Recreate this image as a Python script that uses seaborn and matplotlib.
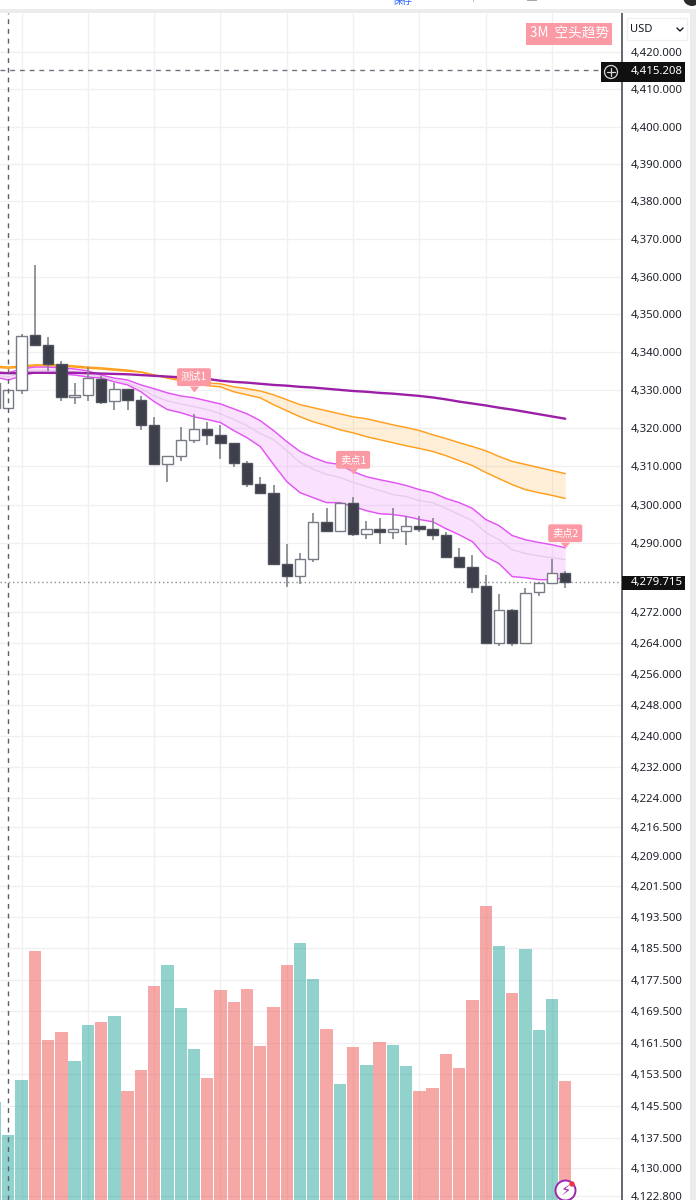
import matplotlib
matplotlib.use("Agg")
import matplotlib.pyplot as plt
from matplotlib.patches import Rectangle, FancyBboxPatch, Circle
from matplotlib.ticker import FixedLocator, FixedFormatter, NullLocator
from matplotlib.transforms import IdentityTransform
import numpy as np
import pandas as pd
import seaborn as sns

# OHLC of the 3-minute bars, body top / bottom plus wick extremes
body_top = [4331.9, 4330.1, 4344.2, 4344.5, 4342.0, 4336.9, 4328.8, 4333.2, 4333.0, 4330.4, 4330.4,
            4327.5, 4320.9, 4312.6, 4316.8, 4319.9, 4319.9, 4318.1, 4316.0, 4311.0, 4305.5, 4302.9,
            4284.6, 4285.9, 4295.5, 4295.5, 4300.5, 4300.5, 4293.7, 4293.7, 4293.7, 4294.5, 4294.5,
            4293.5, 4292.1, 4286.4, 4283.8, 4278.8, 4272.5, 4272.5, 4277.0, 4279.6, 4282.2, 4282.2]
body_bottom = [4325.4, 4325.4, 4330.1, 4342.0, 4336.9, 4328.3, 4328.3, 4328.8, 4327.0, 4327.2, 4327.5,
               4320.9, 4310.5, 4310.7, 4312.6, 4316.8, 4318.1, 4316.2, 4311.0, 4305.5, 4302.9, 4284.6,
               4281.4, 4281.4, 4285.9, 4293.2, 4293.2, 4292.4, 4292.4, 4292.9, 4292.9, 4293.2, 4293.5,
               4292.1, 4286.4, 4283.8, 4278.5, 4263.9, 4263.9, 4263.9, 4263.9, 4277.2, 4279.6, 4279.7]
highs = [4334.0, 4330.1, 4344.8, 4363.1, 4344.0, 4337.7, 4331.9, 4336.1, 4333.8, 4331.9, 4330.4,
         4328.5, 4323.0, 4312.8, 4320.2, 4323.8, 4321.7, 4320.9, 4316.0, 4311.3, 4307.3, 4305.0,
         4289.8, 4287.4, 4297.9, 4299.0, 4300.5, 4302.1, 4295.8, 4296.6, 4299.0, 4297.1, 4296.9,
         4296.6, 4292.7, 4288.7, 4286.9, 4281.7, 4276.7, 4272.8, 4278.3, 4279.8, 4285.9, 4282.7]
lows = [4323.0, 4325.4, 4329.1, 4341.6, 4335.1, 4327.2, 4326.4, 4327.2, 4326.4, 4324.9, 4324.9,
        4319.6, 4310.5, 4305.8, 4311.5, 4316.2, 4315.7, 4311.8, 4309.9, 4304.7, 4302.9, 4284.3,
        4278.5, 4279.3, 4285.1, 4292.7, 4292.9, 4291.9, 4291.1, 4289.8, 4291.1, 4289.5, 4292.9,
        4290.8, 4286.4, 4283.5, 4277.0, 4263.6, 4263.1, 4263.1, 4263.9, 4276.2, 4279.6, 4278.3]
rising = [1, 1, 1, 0, 0, 0, 1, 1, 0, 1, 0, 0, 0, 1, 1, 1, 0, 0, 0, 0, 0, 0,
          0, 1, 1, 0, 1, 0, 1, 0, 1, 1, 0, 0, 0, 0, 0, 0, 1, 0, 1, 1, 1, 0]

# Trade volume per bar
volume = [98, 65, 120, 249, 160, 168, 139, 175, 178, 184, 109, 130, 214, 235, 192, 151, 122, 210,
          198, 211, 154, 193, 235, 257, 221, 171, 116, 153, 135, 158, 155, 134, 109, 112, 146, 132,
          200, 294, 254, 207, 251, 170, 201, 119]

# Moving-average ribbons
ribbon_upper = [4334.8, 4334.6, 4335.6, 4336.1, 4336.1, 4335.9, 4335.6, 4335.1, 4334.0, 4333.2, 4332.7,
                4331.4, 4330.4, 4329.3, 4328.5, 4328.0, 4327.2, 4326.4, 4325.1, 4323.8, 4322.0, 4319.4,
                4316.5, 4313.9, 4312.3, 4311.0, 4310.5, 4308.6, 4307.3, 4306.5, 4305.8, 4305.0, 4303.9,
                4303.1, 4301.6, 4300.5, 4299.0, 4296.1, 4294.5, 4291.9, 4290.8, 4290.1, 4289.5, 4288.7]
ribbon_lower = [4333.5, 4332.7, 4333.8, 4334.6, 4334.6, 4334.3, 4334.0, 4333.5, 4333.2, 4332.2, 4331.4,
                4329.6, 4327.0, 4324.9, 4324.1, 4323.0, 4322.3, 4321.5, 4319.4, 4317.5, 4315.2, 4310.5,
                4306.0, 4303.1, 4301.8, 4300.5, 4300.5, 4299.5, 4298.4, 4297.6, 4297.4, 4296.9, 4296.1,
                4295.5, 4293.7, 4292.1, 4290.3, 4286.4, 4284.6, 4281.2, 4280.9, 4280.4, 4280.4, 4280.9]
ribbon_mid = [4334.0, 4333.5, 4334.6, 4335.3, 4335.3, 4335.1, 4334.8, 4334.3, 4333.5, 4332.7, 4331.9,
              4330.4, 4328.5, 4327.2, 4326.4, 4325.7, 4324.9, 4323.8, 4322.3, 4320.7, 4318.6, 4317.0,
              4314.1, 4311.0, 4309.2, 4307.9, 4307.1, 4305.8, 4304.7, 4303.7, 4302.6, 4302.1, 4301.0,
              4300.5, 4299.0, 4297.4, 4295.8, 4292.7, 4290.8, 4288.2, 4287.2, 4286.6, 4286.1, 4285.6]
slow_upper = [4336.4, 4336.1, 4336.4, 4336.7, 4336.7, 4336.7, 4336.4, 4336.1, 4335.9, 4335.6, 4335.3,
              4334.8, 4334.0, 4333.5, 4333.0, 4332.5, 4331.9, 4331.7, 4330.9, 4330.4, 4329.8, 4328.8,
              4327.5, 4326.2, 4325.4, 4324.6, 4323.8, 4323.0, 4322.5, 4321.7, 4320.9, 4320.2, 4319.4,
              4318.3, 4317.3, 4316.2, 4315.2, 4314.1, 4312.6, 4311.3, 4310.5, 4309.7, 4308.9, 4308.1]
slow_lower = [4336.1, 4335.8, 4336.1, 4336.4, 4336.4, 4336.4, 4336.1, 4335.8, 4335.6, 4335.3, 4335.0,
              4334.8, 4334.0, 4333.2, 4332.5, 4331.7, 4331.2, 4330.9, 4329.6, 4328.8, 4328.0, 4326.2,
              4324.6, 4323.0, 4321.7, 4320.7, 4319.6, 4318.8, 4317.8, 4317.0, 4316.2, 4315.4, 4314.7,
              4313.9, 4312.8, 4311.5, 4310.2, 4308.4, 4306.8, 4305.2, 4303.9, 4303.1, 4302.4, 4301.6]
trend_line = [4334.6, 4334.5, 4334.5, 4334.6, 4334.6, 4334.6, 4334.6, 4334.5, 4334.4, 4334.3, 4334.2,
              4334.0, 4333.8, 4333.6, 4333.4, 4333.2, 4333.0, 4332.5, 4332.2, 4332.0, 4331.7, 4331.4,
              4331.2, 4330.9, 4330.7, 4330.4, 4330.1, 4329.8, 4329.6, 4329.3, 4329.1, 4328.8, 4328.5,
              4328.1, 4327.6, 4327.0, 4326.5, 4326.0, 4325.4, 4324.9, 4324.3, 4323.7, 4323.1, 4322.5]

# Signal badges: bar index, price of the pointer, caption
signal_bars = [15, 27, 43]
signal_prices = [4329.6, 4307.9, 4288.7]
signal_labels = ["测试1", "卖点1", "卖点2"]

# Price scale
tick_values = [4420, 4410, 4400, 4390, 4380, 4370, 4360, 4350, 4340, 4330, 4320, 4310, 4300, 4290,
               4272, 4264, 4256, 4248, 4240, 4232, 4224, 4216.5, 4209, 4201.5, 4193.5, 4185.5,
               4177.5, 4169.5, 4161.5, 4153.5, 4145.5, 4137.5, 4130, 4122.8]
tick_labels = [f"{v:,.3f}" for v in tick_values]
crosshair_price = 4415.208
last_price = 4279.715
grid_bars = [2, 7, 12, 17, 22, 27, 32, 37, 42]

PINK = "#EF5350"
TEAL = "#26A69A"
BADGE = "#FB9AA4"
GRID = "#F0F0F2"
LATIN = ["Noto Sans", "DejaVu Sans"]

sns.set_style("white")
plt.rcParams["font.family"] = ["Noto Sans CJK SC", "DejaVu Sans"]

fig_w, fig_h = 696, 1200
fig = plt.figure(figsize=(fig_w / 100, fig_h / 100), dpi=100, facecolor="white")
pane_top = 13
ax = fig.add_axes([0, 0, 622 / fig_w, (fig_h - pane_top) / fig_h])


def fx(x):
    return x / fig_w


def fy(y):
    return 1 - y / fig_h


def disc(x, y, r, **style):
    # Round marker placed in device pixels so it stays circular
    fig.add_artist(Circle((x, fig_h - y), r, transform=IdentityTransform(), **style))


bars = pd.DataFrame({
    "bar": np.arange(len(volume)),
    "volume": volume,
    "side": ["up" if r else "down" for r in rising],
    "top": body_top,
    "bottom": body_bottom,
    "high": highs,
    "low": lows,
    "upper": ribbon_upper,
    "lower": ribbon_lower,
    "mid": ribbon_mid,
    "slow_upper": slow_upper,
    "slow_lower": slow_lower,
    "trend": trend_line,
})

# Volume histogram shares the bar axis
ax_vol = ax.twinx()
sns.barplot(data=bars, x="bar", y="volume", hue="side", palette={"up": TEAL, "down": PINK},
            hue_order=["up", "down"], native_scale=True, dodge=False, width=0.93, alpha=0.5,
            saturation=1, linewidth=0, legend=False, ax=ax_vol)
ax_vol.set_ylim(0, fig_h - pane_top)
ax_vol.set_yticks([])
ax_vol.set_ylabel("")
ax_vol.set_xlabel("")
for side in ["top", "left", "bottom", "right"]:
    ax_vol.spines[side].set_visible(False)

# Price pane on a log scale with the labels on the right
ax.set_yscale("log")
ax.yaxis.tick_right()
ax.yaxis.set_major_locator(FixedLocator(tick_values))
ax.yaxis.set_major_formatter(FixedFormatter(tick_labels))
ax.yaxis.set_minor_locator(NullLocator())
ax.tick_params(axis="y", which="major", length=0, pad=6.5, labelsize=8.2, labelcolor="#1F222B")
ax.set_axisbelow(True)
ax.grid(axis="y", color=GRID, lw=1)
for g in grid_bars:
    ax.axvline(g, color=GRID, lw=1, zorder=0)

# Ribbons
ax.fill_between(bars["bar"], bars["slow_lower"], bars["slow_upper"], color="#FF9800", alpha=0.15, lw=0, zorder=1)
ax.fill_between(bars["bar"], bars["lower"], bars["upper"], color="#E040FB", alpha=0.15, lw=0, zorder=1)
for col, colour, width in [("slow_upper", "#FF9F1C", 1.05), ("slow_lower", "#FF9F1C", 1.05),
                           ("mid", "#E8CBEC", 1.0), ("upper", "#E254F5", 1.05), ("lower", "#E254F5", 1.05),
                           ("trend", "#9C1FA8", 1.7)]:
    sns.lineplot(data=bars, x="bar", y=col, color=colour, lw=width, estimator=None, ax=ax, zorder=2)

# Candles
ax.vlines(bars["bar"], bars["low"], bars["high"], color="#82848E", lw=1.2, zorder=3)
top = np.array(body_top)
bottom = np.array(body_bottom)
is_up = np.array(rising, dtype=bool)
ax.bar(bars["bar"][is_up], (top - bottom)[is_up], bottom=bottom[is_up], width=0.78,
       facecolor="white", edgecolor="#787B86", lw=1.0, zorder=4)
ax.bar(bars["bar"][~is_up], (top - bottom)[~is_up], bottom=bottom[~is_up], width=0.78,
       facecolor="#3D3F4A", edgecolor="#50525C", lw=1.0, zorder=4)

# Last-price and crosshair guides
ax.axhline(last_price, color="#8A8C94", lw=1, ls=(0, (1, 2)), zorder=3)
ax.plot([0.37, 45.7], [crosshair_price] * 2, color="#70737E", lw=1, ls=(0, (3.5, 3.5)), zorder=3)
ax_vol.axvline(1, color="#5E6069", lw=1, ls=(0, (3.5, 3.5)), zorder=6)

# Signal badges with their pointers
tip = [(-0.8, 1), (0.8, 1), (0, 0), (-0.8, 1)]
ax.scatter(signal_bars, signal_prices, marker=tip, s=72, color=BADGE, lw=0, zorder=7)
for bar_i, price, text in zip(signal_bars, signal_prices, signal_labels):
    ax.annotate(text, xy=(bar_i, price), xytext=(0, 10.5), textcoords="offset points",
                ha="center", va="center", color="white", fontsize=7.4, zorder=8,
                bbox=dict(boxstyle="round,pad=0.38,rounding_size=0.2", fc=BADGE, ec="none"))

ax.set_xlim(0.374, 47.28)
ax.set_ylim(4121.9, 4430.5)
ax.set_xticks([])
ax.set_xlabel("")
ax.set_ylabel("")
for side in ["top", "left", "bottom"]:
    ax.spines[side].set_visible(False)
ax.spines["right"].set_color("#63666E")
ax.spines["right"].set_linewidth(1.4)
ax_vol.set_zorder(ax.get_zorder() + 1)
ax_vol.patch.set_visible(False)
ax.patch.set_facecolor("white")

fig.canvas.draw()
for lab in ax.get_yticklabels():
    lab.set_fontfamily(LATIN)


def rect(x0, y0, x1, y1, colour):
    fig.add_artist(Rectangle((fx(x0), fy(y1)), fx(x1 - x0), (y1 - y0) / fig_h,
                             transform=fig.transFigure, fc=colour, ec="none"))


# Window chrome around the chart
rect(0, 9, 696, 13, "#ECECEC")
rect(690, 13, 696, 1200, "#ECECEC")
fig.text(fx(403), fy(1), "保存", color="#2962FF", fontsize=7.2, ha="center", va="center")
rect(473, 0, 474, 2, "#BDBDBD")
rect(527, 0, 537, 1, "#A8A8A8")
disc(692, -3, 9, fc="#2A2A2A", ec="none")

# Timeframe caption
rect(526, 23, 612, 45, BADGE)
fig.text(fx(569), fy(34), "3M  空头趋势", color="white", fontsize=9.8, fontweight="medium",
         ha="center", va="center")

# Currency selector
fig.add_artist(FancyBboxPatch((fx(627), fy(40)), fx(60), 22 / fig_h, transform=fig.transFigure,
                              boxstyle="square,pad=0", fc="white", ec="#F0F0F2", lw=1))
fig.text(fx(630), fy(29), "USD", color="#131722", fontsize=8.0, family=LATIN, va="center")
fig.add_artist(plt.Line2D([fx(677), fx(680), fx(683)], [fy(28), fy(31), fy(28)],
                          color="#131722", lw=1, transform=fig.transFigure))

# Price tags on the scale
rect(601, 62, 685, 82, "#101010")
fig.text(fx(631), fy(71.5), f"{crosshair_price:,.3f}", color="white", fontsize=8.2, fontweight="bold",
         family=LATIN, va="center")
disc(611, 72, 6.5, fc="none", ec="#D8D8D8", lw=0.9)
fig.add_artist(plt.Line2D([fx(607), fx(615)], [fy(72), fy(72)], color="#D8D8D8", lw=0.9, transform=fig.transFigure))
fig.add_artist(plt.Line2D([fx(611), fx(611)], [fy(68), fy(76)], color="#D8D8D8", lw=0.9, transform=fig.transFigure))
rect(622, 576, 685, 590, "#101010")
fig.text(fx(631), fy(583), f"{last_price:,.3f}", color="white", fontsize=8.2, fontweight="bold",
         family=LATIN, va="center")

# Assistant button in the corner
disc(565.5, 1190.5, 10, fc="white", ec="#9C27B0", lw=1.4, zorder=9)
fig.text(fx(565.5), fy(1190.5), "\u26a1", color="#9C27B0", fontsize=10.5, family=["DejaVu Sans"],
         ha="center", va="center", zorder=10)
disc(572, 1184, 2.7, fc="#F23645", ec="none", zorder=11)

fig.savefig("out.png", dpi=100, facecolor="white")
